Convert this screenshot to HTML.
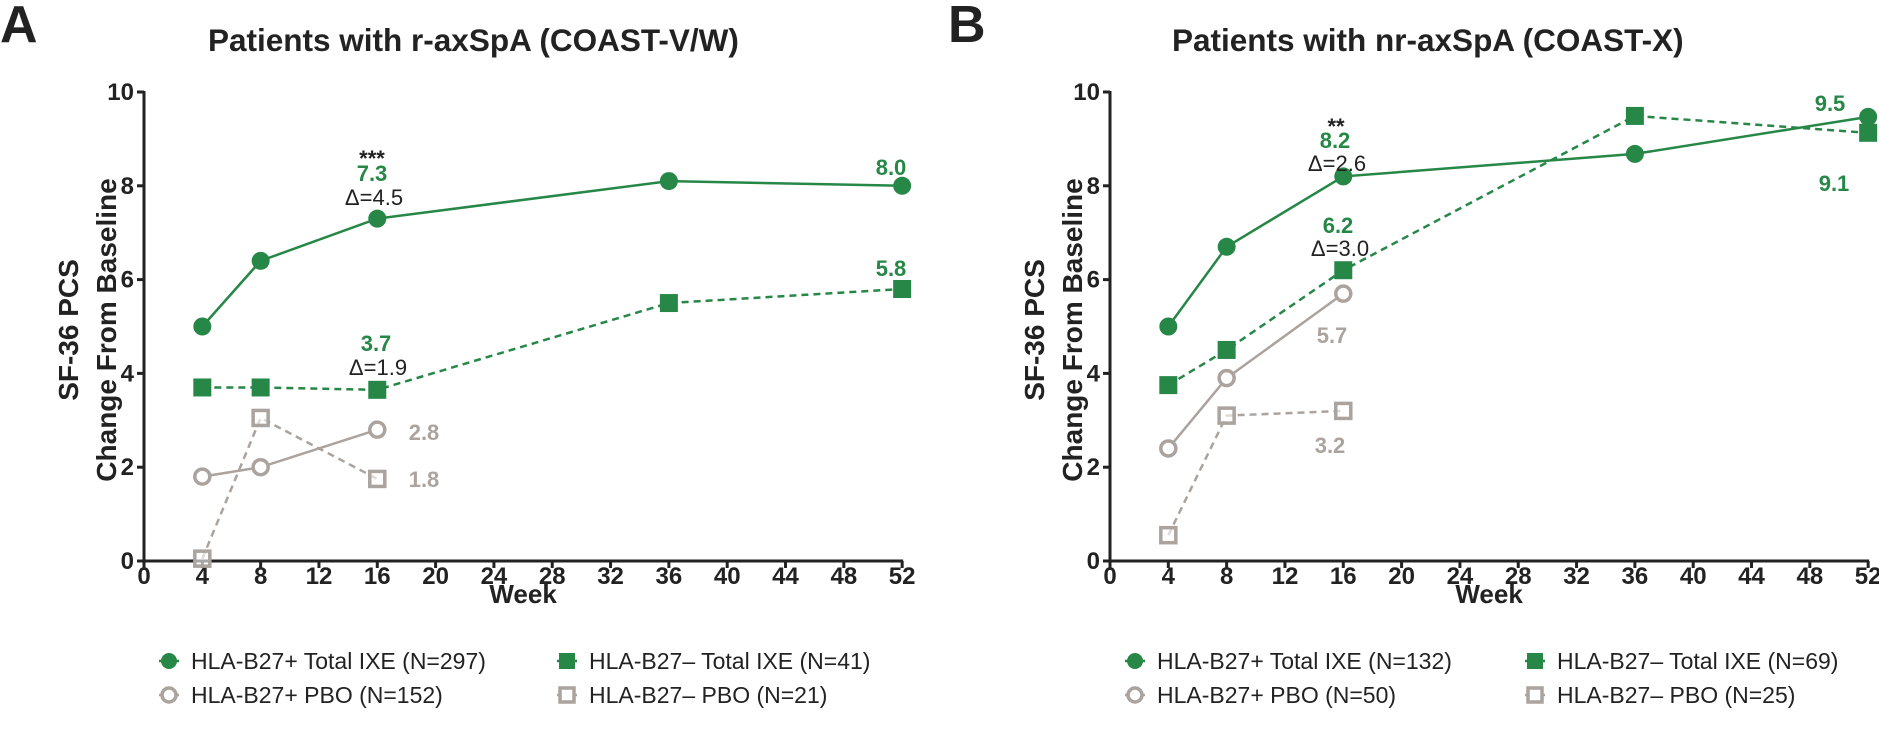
<!DOCTYPE html>
<html><head><meta charset="utf-8"><style>
html,body{margin:0;padding:0;background:#fff;}
svg{display:block;font-family:"Liberation Sans",Arial,sans-serif;}
</style></head><body>
<svg id="chart" width="1879" height="732" viewBox="0 0 1879 732" xmlns="http://www.w3.org/2000/svg"></svg>
<script>
// ---- data ----
const weeks = [4, 8, 16, 36, 52];
const xTicks = [0,4,8,12,16,20,24,28,32,36,40,44,48,52];
const yTicks = [0,2,4,6,8,10];
const aIxePos = [5.0, 6.4, 7.3, 8.1, 8.0];
const aIxeNeg = [3.7, 3.7, 3.65, 5.5, 5.8];
const aPboPos = [1.8, 2.0, 2.8];
const aPboNeg = [0.05, 3.05, 1.75];
const bIxePos = [5.0, 6.7, 8.2, 8.68, 9.47];
const bIxeNeg = [3.75, 4.5, 6.2, 9.49, 9.13];
const bPboPos = [2.4, 3.9, 5.7];
const bPboNeg = [0.55, 3.1, 3.2];

const GREEN = "#268747", GRAY = "#aba39d", DARK = "#222";
const svg = document.getElementById('chart');
const NS = "http://www.w3.org/2000/svg";
function el(tag, attrs, parent){
  const e = document.createElementNS(NS, tag);
  for (const k in attrs) e.setAttribute(k, attrs[k]);
  (parent||svg).appendChild(e);
  return e;
}
function txt(s, attrs, parent){ const t = el('text', attrs, parent); t.textContent = s; return t; }

function panel(cfg){
  const g = el('g', {});
  
  
  const x0 = cfg.x0, pw = 14.58, y0 = 561, ph = 46.9;
  const X = w => x0 + w * pw;
  const Y = v => y0 - v * ph;
  const L = txt(cfg.letter, {x: cfg.letterX, y: 42, 'font-size': 52, 'font-weight': 'bold', fill: DARK}, g);
  
  
  const T = txt(cfg.title, {x: cfg.titleX, y: 51, 'font-size': 31.5, 'font-weight': 'bold', fill: DARK}, g);
  
  
  const yt = el('g', {transform: `translate(${x0 - 66},330) rotate(-90)`}, g);
  
  
  txt('SF-36 PCS', {x: 0, y: 0, 'text-anchor': 'middle', 'font-size': 28, 'font-weight': 'bold', fill: DARK}, yt);
  txt('Change From Baseline', {x: 0, y: 38, 'text-anchor': 'middle', 'font-size': 28, 'font-weight': 'bold', fill: DARK}, yt);
  const ax = el('path', {d: `M${x0},${Y(10)-1} V${y0} H${X(52)+1}`, stroke: DARK, 'stroke-width': 3, fill: 'none'}, g);
  
  
  yTicks.forEach(v => {
    el('line', {x1: x0 - 7, x2: x0, y1: Y(v), y2: Y(v), stroke: DARK, 'stroke-width': 3}, g);
    const t = txt(String(v), {x: x0 - 10, y: Y(v) + 8, 'text-anchor': 'end', 'font-size': 24, 'font-weight': 'bold', fill: DARK}, g);
    
    
  });
  xTicks.forEach(w => {
    el('line', {x1: X(w), x2: X(w), y1: y0, y2: y0 + 7, stroke: DARK, 'stroke-width': 3}, g);
    const t = txt(String(w), {x: X(w), y: 584, 'text-anchor': 'middle', 'font-size': 24, 'font-weight': 'bold', fill: DARK}, g);
    
    
  });
  const xt = txt('Week', {x: (X(0) + X(52)) / 2, y: 603, 'text-anchor': 'middle', 'font-size': 26, 'font-weight': 'bold', fill: DARK}, g);
  
  

  function series(vals, color, dashed, marker, filled, name){
    const sg = el('g', {}, g);
    
    
    const pts = vals.map((v, i) => `${X(weeks[i])},${Y(v)}`).join(' ');
    el('polyline', {points: pts, fill: 'none', stroke: color, 'stroke-width': 2.5, 'stroke-dasharray': dashed ? '7,5' : 'none'}, sg);
    vals.forEach((v, i) => {
      const cx = X(weeks[i]), cy = Y(v);
      let m;
      if (marker === 'circle') {
        m = filled ? el('circle', {cx, cy, r: 9, fill: color}, sg)
                   : el('circle', {cx, cy, r: 7.5, fill: '#fff', stroke: color, 'stroke-width': 3.5}, sg);
      } else {
        m = filled ? el('rect', {x: cx - 9, y: cy - 9, width: 18, height: 18, fill: color}, sg)
                   : el('rect', {x: cx - 7.5, y: cy - 7.5, width: 15, height: 15, fill: '#fff', 'fill-opacity': 0.6, stroke: color, 'stroke-width': 3.5}, sg);
      }
      
      
    });
  }
  series(cfg.pboNeg, GRAY, true, 'square', false, 'series-hla-b27-neg-pbo');
  series(cfg.pboPos, GRAY, false, 'circle', false, 'series-hla-b27-pos-pbo');
  series(cfg.ixeNeg, GREEN, true, 'square', true, 'series-hla-b27-neg-ixe');
  series(cfg.ixePos, GREEN, false, 'circle', true, 'series-hla-b27-pos-ixe');

  cfg.labels.forEach(l => {
    const t = txt(l.s, {x: l.x, y: l.y + 8, 'text-anchor': 'middle', 'font-size': 22, 'font-weight': l.bold ? 'bold' : 'normal', fill: l.c}, g);
    
    
  });

  const lg = el('g', {}, g);
  
  
  const items = [
    {m: 'circle', f: true, c: GREEN, x: x0 + 25, y: 661, s: cfg.leg[0]},
    {m: 'square', f: true, c: GREEN, x: cfg.col2, y: 661, s: cfg.leg[1]},
    {m: 'circle', f: false, c: GRAY, x: x0 + 25, y: 695, s: cfg.leg[2]},
    {m: 'square', f: false, c: GRAY, x: cfg.col2, y: 695, s: cfg.leg[3]}
  ];
  items.forEach(it => {
    const eg = el('g', {}, lg);
    
    
    el('line', {x1: it.x - 10, x2: it.x + 10, y1: it.y, y2: it.y, stroke: it.c, 'stroke-width': 2.5}, eg);
    if (it.m === 'circle') {
      if (it.f) el('circle', {cx: it.x, cy: it.y, r: 8, fill: it.c}, eg);
      else el('circle', {cx: it.x, cy: it.y, r: 7, fill: '#fff', stroke: it.c, 'stroke-width': 3.5}, eg);
    } else {
      if (it.f) el('rect', {x: it.x - 8, y: it.y - 8, width: 16, height: 16, fill: it.c}, eg);
      else el('rect', {x: it.x - 7, y: it.y - 7, width: 14, height: 14, fill: '#fff', stroke: it.c, 'stroke-width': 3.5}, eg);
    }
    txt(it.s, {x: it.x + 22, y: it.y + 8, 'font-size': 23, fill: DARK}, eg);
  });
}

panel({
  name: 'panel-a', letter: 'A', letterX: 0, title: 'Patients with r-axSpA (COAST-V/W)', titleX: 208,
  x0: 144, ixePos: aIxePos, ixeNeg: aIxeNeg, pboPos: aPboPos, pboNeg: aPboNeg, col2: 567,
  leg: ['HLA-B27+ Total IXE (N=297)', 'HLA-B27\u2013 Total IXE (N=41)', 'HLA-B27+ PBO (N=152)', 'HLA-B27\u2013 PBO (N=21)'],
  labels: [
    {s: '***', x: 372, y: 158, c: DARK, bold: true},
    {s: '7.3', x: 372, y: 173, c: GREEN, bold: true},
    {s: '\u0394=4.5', x: 374, y: 197, c: DARK},
    {s: '3.7', x: 376, y: 343, c: GREEN, bold: true},
    {s: '\u0394=1.9', x: 378, y: 367, c: DARK},
    {s: '2.8', x: 424, y: 432, c: GRAY, bold: true},
    {s: '1.8', x: 424, y: 479, c: GRAY, bold: true},
    {s: '8.0', x: 891, y: 167, c: GREEN, bold: true},
    {s: '5.8', x: 891, y: 268, c: GREEN, bold: true}
  ]
});
panel({
  name: 'panel-b', letter: 'B', letterX: 948, title: 'Patients with nr-axSpA (COAST-X)', titleX: 1172,
  x0: 1110, ixePos: bIxePos, ixeNeg: bIxeNeg, pboPos: bPboPos, pboNeg: bPboNeg, col2: 1535,
  leg: ['HLA-B27+ Total IXE (N=132)', 'HLA-B27\u2013 Total IXE (N=69)', 'HLA-B27+ PBO (N=50)', 'HLA-B27\u2013 PBO (N=25)'],
  labels: [
    {s: '**', x: 1336, y: 126, c: DARK, bold: true},
    {s: '8.2', x: 1335, y: 140, c: GREEN, bold: true},
    {s: '\u0394=2.6', x: 1337, y: 163, c: DARK},
    {s: '6.2', x: 1338, y: 225, c: GREEN, bold: true},
    {s: '\u0394=3.0', x: 1340, y: 248, c: DARK},
    {s: '5.7', x: 1332, y: 335, c: GRAY, bold: true},
    {s: '3.2', x: 1330, y: 445, c: GRAY, bold: true},
    {s: '9.5', x: 1830, y: 103, c: GREEN, bold: true},
    {s: '9.1', x: 1834, y: 183, c: GREEN, bold: true}
  ]
});
</script>
</body></html>
